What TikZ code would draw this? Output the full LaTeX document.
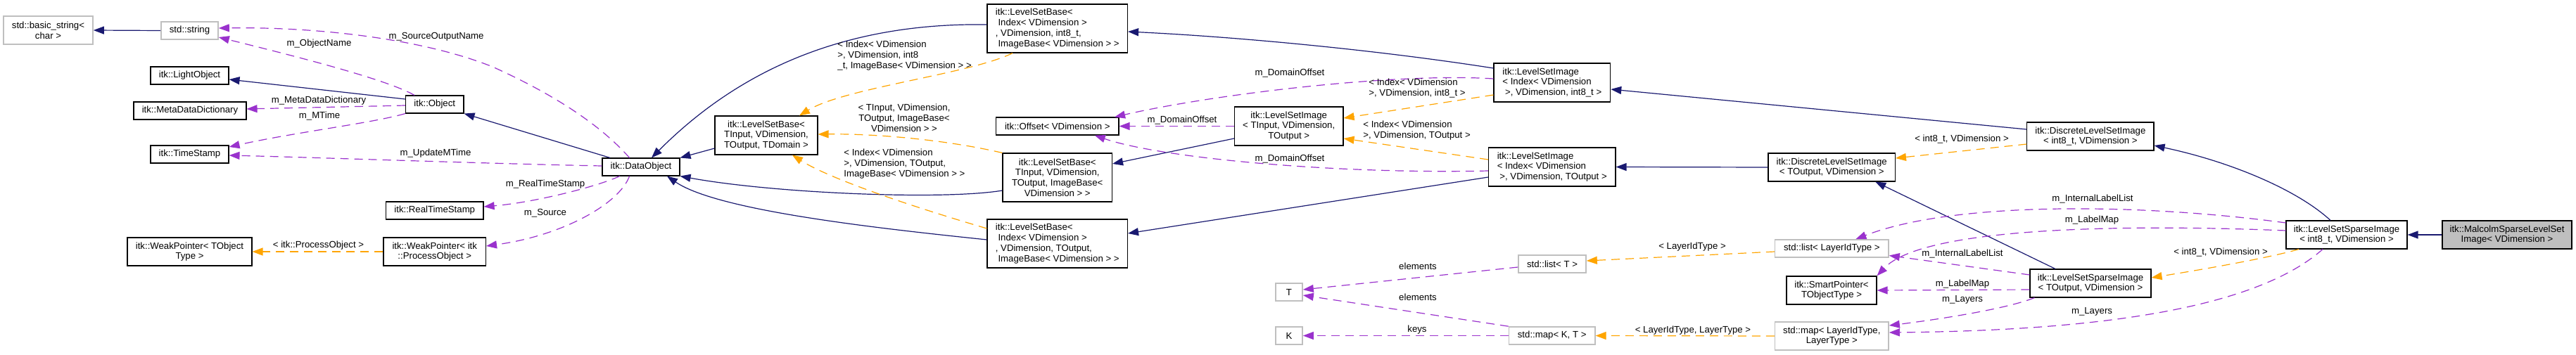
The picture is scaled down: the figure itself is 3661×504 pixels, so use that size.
\documentclass[tikz,border=0pt]{standalone}
\usepackage{fontspec}
\setmainfont{Liberation Sans}
\usetikzlibrary{arrows.meta,calc}
\definecolor{navy}{HTML}{191970}
\definecolor{dpurple}{HTML}{9A32CD}
\definecolor{dorange}{HTML}{FFA500}
\definecolor{lgray}{HTML}{BFBFBF}
\tikzset{
  every node/.style={font=\fontsize{6.6pt}{7.4pt}\selectfont, inner sep=0pt},
  cls/.style={draw=black, line width=0.55pt, fill=white, align=center},
  ext/.style={draw=lgray, line width=0.8pt, fill=white, align=center},
  mainbox/.style={draw=black, line width=0.55pt, fill=lgray, align=center},
  inh/.style={draw=navy, line width=0.6pt, -{Triangle[length=7.5pt,width=5.5pt]}},
  tmpl/.style={draw=dorange, line width=0.6pt, dash pattern=on 6pt off 4pt, -{Triangle[length=7.5pt,width=5.5pt]}},
  usg/.style={draw=dpurple, line width=0.6pt, dash pattern=on 6pt off 4pt, -{Triangle[length=7.5pt,width=5.5pt]}},
  lbl/.style={align=center},
  lbll/.style={align=left, anchor=west}
}
\newcommand\bx[7]{\node[#2, minimum width={#5*0.5pt}, minimum height={#6*0.5pt}] (#1) at (#3,#4) {#7};}
\newcommand\lsp{\hspace*{0.278em}}
\begin{document}
\begin{tikzpicture}[x=0.5pt,y=-0.5pt]
\fill[white] (0,0) rectangle (3661,504);
\useasboundingbox (0,0) rectangle (3661,504);
% nodes
\bx{bstr}{ext}{68.5}{43}{127}{40}{std::basic\_string<\\char >}
\bx{sstr}{ext}{269.5}{43.5}{81}{25}{std::string}
\bx{lobj}{cls}{269.5}{107.5}{111}{25}{itk::LightObject}
\bx{mdd}{cls}{270}{157.5}{160}{25}{itk::MetaDataDictionary}
\bx{ts}{cls}{269.5}{219.5}{111}{25}{itk::TimeStamp}
\bx{wpt}{cls}{269.5}{358}{177}{40}{itk::WeakPointer< TObject\\Type >}
\bx{obj}{cls}{617.75}{148.5}{82.5}{25}{itk::Object}
\bx{rts}{cls}{617.75}{299.5}{138.5}{25}{itk::RealTimeStamp}
\bx{wpp}{cls}{617.75}{358}{145.5}{40}{itk::WeakPointer< itk\\::ProcessObject >}
\bx{dobj}{cls}{911}{237.5}{110}{25}{itk::DataObject}
\bx{lsbT}{cls}{1089}{192.5}{146}{55}{itk::LevelSetBase<\\TInput, VDimension,\\TOutput, TDomain >}
\bx{lsb8}{cls,align=left}{1502.75}{40.5}{199.5}{69}{itk::LevelSetBase<\\\lsp Index< VDimension >\\, VDimension, int8\_t,\\\lsp ImageBase< VDimension > >}
\bx{off}{cls}{1502.75}{179.5}{174.5}{25}{itk::Offset< VDimension >}
\bx{lsbI}{cls}{1502.75}{252.5}{155.5}{69}{itk::LevelSetBase<\\TInput, VDimension,\\TOutput, ImageBase<\\VDimension > >}
\bx{lsbO}{cls,align=left}{1502.75}{346.5}{199.5}{69}{itk::LevelSetBase<\\\lsp Index< VDimension >\\, VDimension, TOutput,\\\lsp ImageBase< VDimension > >}
\bx{lsiT}{cls}{1831.7}{179.5}{154.6}{55}{itk::LevelSetImage\\< TInput, VDimension,\\TOutput >}
\bx{T}{ext}{1832}{415.5}{38}{25}{T}
\bx{K}{ext}{1832}{477.5}{38}{25}{K}
\bx{lsi8}{cls,align=left}{2205.85}{117.5}{165.7}{55}{itk::LevelSetImage\\< Index< VDimension\\\lsp >, VDimension, int8\_t >}
\bx{lsiO}{cls,align=left}{2205.75}{237.5}{180.5}{55}{itk::LevelSetImage\\< Index< VDimension\\\lsp >, VDimension, TOutput >}
\bx{listT}{ext}{2206}{375.5}{96}{25}{std::list< T >}
\bx{mapKT}{ext}{2205.65}{477.5}{122.3}{25}{std::map< K, T >}
\bx{dlsiO}{cls}{2603.2}{238}{180.4}{40}{itk::DiscreteLevelSetImage\\< TOutput, VDimension >}
\bx{listL}{ext}{2603.3}{353.5}{161.4}{25}{std::list< LayerIdType >}
\bx{spt}{cls}{2603}{413}{128}{40}{itk::SmartPointer<\\TObjectType >}
\bx{mapL}{ext}{2603.3}{478}{161.4}{40}{std::map< LayerIdType,\\LayerType >}
\bx{dlsi8}{cls}{2970.9}{194}{180.2}{40}{itk::DiscreteLevelSetImage\\< int8\_t, VDimension >}
\bx{lssO}{cls}{2971}{403}{172}{40}{itk::LevelSetSparseImage\\< TOutput, VDimension >}
\bx{lss8}{cls}{3335}{334}{172}{40}{itk::LevelSetSparseImage\\< int8\_t, VDimension >}
\bx{mal}{mainbox}{3563}{334}{184}{40}{itk::MalcolmSparseLevelSet\\Image< VDimension >}
% edges
\draw[inh] (sstr.west) -- (bstr.east);
\draw[usg] ($(dobj.north)+(-16.4,0)$) .. controls (860,185) and (800,140) .. (700,95) .. controls (600,55) and (450,38) .. ($(sstr.east)+(0,-3.5)$);
\node[lbl] (l1) at (620,52) {m\_SourceOutputName};
\draw[usg] ($(obj.north)+(-28.75,0)$) .. controls (550,113) and (420,80) .. ($(sstr.east)+(0,9.5)$);
\node[lbl] (l2) at (453.5,62) {m\_ObjectName};
\draw[inh] ($(obj.west)+(0,-7.5)$) -- ($(lobj.east)+(0,5.5)$);
\draw[usg] ($(obj.west)+(0,1.5)$) -- ($(mdd.east)+(0,-2.5)$);
\node[lbl] (l3) at (453,143) {m\_MetaDataDictionary};
\draw[usg] (obj.south west) .. controls (530,175) and (420,188) .. ($(ts.east)+(0,-10.5)$);
\node[lbl] (l4) at (454,165) {m\_MTime};
\draw[usg] ($(dobj.west)+(0,-1.5)$) .. controls (700,233) and (450,224) .. ($(ts.east)+(0,1.5)$);
\node[lbl] (l5) at (619,218) {m\_UpdateMTime};
\draw[usg] ($(dobj.south)+(-30.3,0)$) .. controls (850,265) and (760,288) .. ($(rts.east)+(0,-5.5)$);
\node[lbl] (l6) at (775,262) {m\_RealTimeStamp};
\draw[usg] ($(dobj.south)+(-16.4,0)$) .. controls (880,290) and (800,335) .. ($(wpp.east)+(0,-8)$);
\node[lbl] (l7) at (775,303) {m\_Source};
\draw[tmpl] (wpp.west) -- (wpt.east);
\node[lbl] (l8) at (452.5,349) {< itk::ProcessObject >};
\draw[inh] ($(dobj.north)+(-44,0)$) -- (obj.south east);
\draw[inh] ($(lsbT.west)+(0,18.5)$) -- (dobj.north east);
\draw[inh] ($(lsb8.west)+(0,-5.5)$) .. controls (1200,32) and (1050,100) .. ($(dobj.north)+(15,0)$);
\draw[inh] ($(lsbI.west)+(0,18.5)$) .. controls (1340,285) and (1100,275) .. (dobj.south east);
\draw[inh] ($(lsbO.west)+(0,-5.5)$) .. controls (1250,325) and (1020,300) .. ($(dobj.south)+(37,0)$);
\draw[tmpl] ($(lsb8.south)+(-63.75,0)$) .. controls (1380,105) and (1200,125) .. ($(lsbT.north)+(47,0)$);
\node[lbll] (l9) at (1190,79) {< Index< VDimension\\>, VDimension, int8\\\_t, ImageBase< VDimension > >};
\draw[tmpl] (lsbI.north west) .. controls (1350,200) and (1250,190) .. ($(lsbT.east)+(0,-1.5)$);
\node[lbl] (l10) at (1285,167.5) {< TInput, VDimension,\\TOutput, ImageBase<\\VDimension > >};
\draw[tmpl] ($(lsbO.west)+(0,-21.5)$) .. controls (1300,295) and (1180,255) .. ($(lsbT.south)+(37,0)$);
\node[lbll] (l11) at (1199,233) {< Index< VDimension\\>, VDimension, TOutput,\\ImageBase< VDimension > >};
\draw[inh] ($(lsi8.west)+(0,-20.5)$) .. controls (1950,70) and (1750,52) .. ($(lsb8.east)+(0,4.5)$);
\draw[usg] ($(lsi8.west)+(0,-5.5)$) .. controls (1980,103) and (1720,135) .. ($(off.north east)+(-6.5,0)$);
\node[lbl] (l12) at (1833,104) {m\_DomainOffset};
\draw[usg] (lsiT.west) -- (off.east);
\node[lbl] (l13) at (1680,171) {m\_DomainOffset};
\draw[usg] ($(lsiO.west)+(0,5.5)$) .. controls (1900,248) and (1650,225) .. ($(off.south)+(53,0)$);
\node[lbl] (l14) at (1833,226) {m\_DomainOffset};
\draw[inh] ($(lsiT.west)+(0,17.5)$) -- ($(lsbI.east)+(0,-19.5)$);
\draw[inh] ($(lsiO.west)+(0,14.5)$) -- ($(lsbO.east)+(0,-14.5)$);
\draw[tmpl] ($(lsi8.west)+(0,17.5)$) -- ($(lsiT.east)+(0,-11.5)$);
\node[lbll] (l15) at (1945,125.5) {< Index< VDimension\\>, VDimension, int8\_t >};
\draw[tmpl] ($(lsiO.west)+(0,-10.5)$) -- ($(lsiT.east)+(0,17.5)$);
\node[lbll] (l16) at (1937,185.5) {< Index< VDimension\\>, VDimension, TOutput >};
\draw[inh] ($(dlsi8.west)+(0,-10)$) -- ($(lsi8.east)+(0,9.5)$);
\draw[inh] (dlsiO.west) -- (lsiO.east);
\draw[tmpl] ($(dlsi8.west)+(0,11)$) -- ($(dlsiO.east)+(0,-13)$);
\node[lbl] (l17) at (2788,198) {< int8\_t, VDimension >};
\draw[inh] ($(lssO.north)+(-50,0)$) -- ($(dlsiO.south)+(62,0)$);
\draw[inh] ($(lss8.north)+(-23,0)$) .. controls (3265,270) and (3170,230) .. ($(dlsi8.east)+(0,13)$);
\draw[tmpl] ($(lss8.south)+(-68,0)$) .. controls (3220,368) and (3120,385) .. ($(lssO.east)+(0,-8)$);
\node[lbl] (l18) at (3156,359) {< int8\_t, VDimension >};
\draw[usg] ($(lssO.west)+(0,-12)$) -- ($(listL.east)+(0,10)$);
\node[lbl] (l19) at (2789,361) {m\_InternalLabelList};
\draw[usg] ($(lss8.west)+(0,-17)$) .. controls (3050,290) and (2780,285) .. ($(listL.north)+(34,0)$);
\node[lbl] (l20) at (2974,283) {m\_InternalLabelList};
\draw[usg] ($(lssO.west)+(0,9)$) -- (spt.east);
\node[lbl] (l21) at (2789,404) {m\_LabelMap};
\draw[usg] ($(lss8.west)+(0,-6)$) .. controls (3000,318) and (2730,325) .. (spt.north east);
\node[lbl] (l22) at (2973,313) {m\_LabelMap};
\draw[usg] ($(lssO.south west)+(7,0)$) .. controls (2850,440) and (2750,455) .. ($(mapL.east)+(0,-15)$);
\node[lbl] (l23) at (2789,426) {m\_Layers};
\draw[usg] ($(lss8.south)+(-34,0)$) .. controls (3210,435) and (3000,470) .. ($(mapL.east)+(0,-5)$);
\node[lbl] (l24) at (2973,443) {m\_Layers};
\draw[tmpl] ($(listL.west)+(0,4.5)$) -- ($(listT.east)+(0,-4.5)$);
\node[lbl] (l25) at (2405,351) {< LayerIdType >};
\draw[tmpl] (mapL.west) -- (mapKT.east);
\node[lbl] (l26) at (2406,470) {< LayerIdType, LayerType >};
\draw[usg] ($(listT.west)+(0,4.5)$) -- ($(T.east)+(0,-3.5)$);
\node[lbl] (l27) at (2015,379) {elements};
\draw[usg] (mapKT.north west) -- ($(T.east)+(0,4.5)$);
\node[lbl] (l28) at (2015,423) {elements};
\draw[usg] (mapKT.west) -- (K.east);
\node[lbl] (l29) at (2014,469) {keys};
\draw[inh] (mal.west) -- (lss8.east);
\end{tikzpicture}
\end{document}
